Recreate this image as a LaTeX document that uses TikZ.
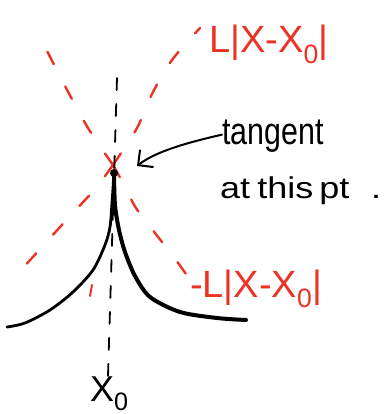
\documentclass[tikz,border=0pt]{standalone}
\usepackage{fontspec}
\usepackage{graphicx}
\setmainfont{Liberation Sans}
\usetikzlibrary{arrows.meta}
\definecolor{pen}{RGB}{235,50,35}
\begin{document}
\begin{tikzpicture}[x=1pt,y=-1pt,
  redline/.style={draw=pen,line width=2.4pt,line cap=round,dash pattern=on 14pt off 25pt},
  axisline/.style={draw=black,line width=1.8pt,line cap=round,dash pattern=on 12pt off 14pt},
  curveline/.style={draw=black,line cap=round,line join=round},
  redtext/.style={text=pen,inner sep=0pt,anchor=base west,font=\fontsize{38}{40}\selectfont},
  blacktext/.style={text=black,inner sep=0pt,anchor=base west},
]
\useasboundingbox (0,0) rectangle (383,414);
% key points
\coordinate (P) at (113,165);
\coordinate (D) at (114,173);
\coordinate (vt) at (117,78);
\coordinate (vb) at (108,376);
\coordinate (tip) at (137,166);
% red bounding lines
\draw[redline] plot[smooth] coordinates {(P) (88,128) (65,86) (43,43)};
\draw[redline] plot[smooth] coordinates {(P) (137,128) (152,94) (172,60) (200,28)};
\draw[redline] plot[smooth] coordinates {(P) (95,189) (71,215) (41,248) (12,280)};
\draw[redline] plot[smooth] coordinates {(P) (124,185) (136,208) (155,233) (173,256) (186,274)};
\draw[pen,line width=2pt,line cap=round] (90,296) -- (92,285);
% axis
\draw[axisline] (vt) -- (vb);
% function curve
\draw[curveline,line width=2.8pt] plot[smooth] coordinates {(D) (112,203) (110,227) (105,245) (93,270) (73,292) (50,310) (25,323) (7,327)};
\draw[curveline,line width=4pt] plot[smooth] coordinates {(D) (115,205) (119,230) (125,252) (135,276) (150,297) (180,312) (217,318) (246,320)};
\fill (D) circle (4);
% labels
\node[redtext] (up) at (209,53) {L|X-X\textsubscript{0}|};
\node[redtext] (lo) at (190,297) {-L|X-X\textsubscript{0}|};
\node[blacktext] (x0) at (90,401) {\fontsize{36}{40}\selectfont X\textsubscript{0}};
\node[blacktext] (tan1) at (222,145) {\scalebox{0.8}[1]{\fontsize{38}{40}\selectfont tangent}};
\node[blacktext] (tan2) at (220,198) {\scalebox{1.2}[1]{\fontsize{30}{32}\selectfont at\hspace{6pt}this\hspace{5pt}pt\hspace{18pt}.}};
\draw[black,line width=2pt,line cap=round,-{Straight Barb[length=11pt,width=22pt]}] ([yshift=2pt]tan1.west) .. controls (185,143) and (155,152) .. (tip);
\end{tikzpicture}
\end{document}
